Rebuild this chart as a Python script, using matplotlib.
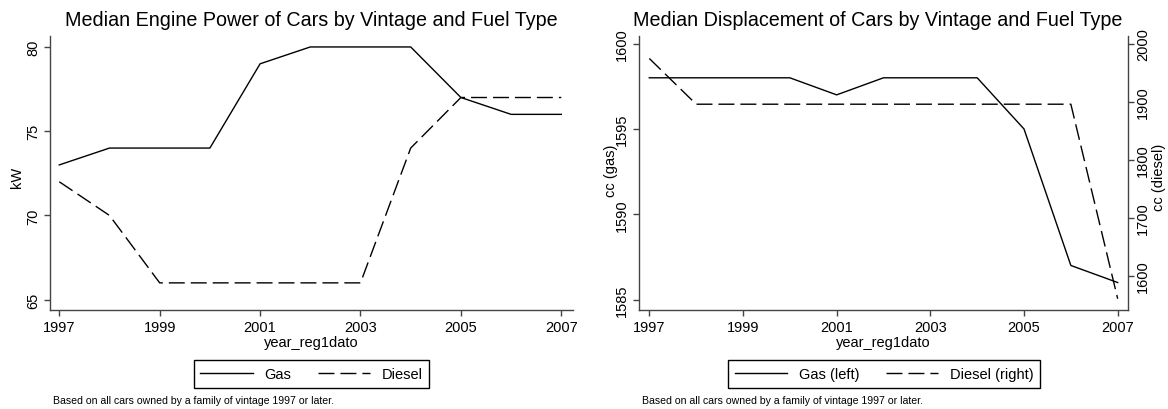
import matplotlib
matplotlib.use("Agg")
import matplotlib.pyplot as plt
from matplotlib.lines import Line2D

years = [1997, 1998, 1999, 2000, 2001, 2002, 2003, 2004, 2005, 2006, 2007]
power_gas = [73, 74, 74, 74, 79, 80, 80, 80, 77, 76, 76]
power_diesel = [72, 70, 66, 66, 66, 66, 66, 74, 77, 77, 77]
disp_gas = [1598, 1598, 1598, 1598, 1597, 1598, 1598, 1598, 1595, 1587, 1586]
disp_diesel = [1975, 1896, 1896, 1896, 1896, 1896, 1896, 1896, 1896, 1896, 1560]
xticks = [1997, 1999, 2001, 2003, 2005, 2007]
power_ticks = [65, 70, 75, 80]
gas_ticks = [1585, 1590, 1595, 1600]
diesel_ticks = [1600, 1700, 1800, 1900, 2000]

plt.rcParams['font.family'] = ['Liberation Sans', 'DejaVu Sans']
plt.rcParams['lines.scale_dashes'] = False

W, H = 1168, 410
fig = plt.figure(figsize=(W / 100, H / 100), dpi=100)

FS = 10.5
SPINE = '#444444'
LW = 1.0
DASH = (0, (11.5, 4.3))


def px(x0, x1, ytop, ybot):
    return [x0 / W, (H - ybot) / H, (x1 - x0) / W, (ybot - ytop) / H]


def style(ax, sides):
    for s in ['top', 'right', 'left', 'bottom']:
        ax.spines[s].set_visible(s in sides)
        ax.spines[s].set_color(SPINE)
        ax.spines[s].set_linewidth(1.0)
    ax.tick_params(axis='both', which='major', length=4.5, width=1.0,
                   color=SPINE, labelsize=FS, pad=2.5)
    ax.set_facecolor('none')


# ---------- left panel ----------
ax1 = fig.add_axes(px(50, 573, 37, 311))
ax1.plot(years, power_gas, color='black', lw=LW, label='Gas')
ax1.plot(years, power_diesel, color='black', lw=LW, linestyle=DASH, label='Diesel')
ax1.set_xlim(1996.815, 2007.233)
ax1.set_ylim(64.39, 80.65)
ax1.set_xticks(xticks)
ax1.set_yticks(power_ticks)
style(ax1, ['left', 'bottom'])
for t in ax1.get_yticklabels():
    t.set_rotation(90)
    t.set_va('center')
ax1.set_xlabel('year_reg1dato', fontsize=FS, labelpad=1)
ax1.set_ylabel('kW', fontsize=FS)
ax1.yaxis.set_label_coords(-0.05, 0.489)
fig.text(311.5 / W, 1 - 21 / H, 'Median Engine Power of Cars by Vintage and Fuel Type',
         ha='center', va='center', fontsize=14.2)
h1 = [Line2D([], [], color='black', lw=LW),
      Line2D([], [], color='black', lw=LW, linestyle=DASH)]
leg1 = fig.legend(h1, ['Gas', 'Diesel'], loc='center', ncol=2,
                  bbox_to_anchor=(311.5 / W, 1 - 375 / H), fontsize=FS,
                  handlelength=3.6, handletextpad=0.8, columnspacing=1.8,
                  borderpad=0.45, fancybox=False, edgecolor='black', framealpha=1)
leg1.get_frame().set_linewidth(1.0)
fig.text(53 / W, 1 - 401 / H, 'Based on all cars owned by a family of vintage 1997 or later.',
         ha='left', va='center', fontsize=7.6)

# ---------- right panel ----------
ax2 = fig.add_axes(px(639, 1128, 37, 311))
ax2.plot(years, disp_gas, color='black', lw=LW)
ax2.set_xlim(1996.78, 2007.22)
ax2.set_ylim(1584.39, 1600.45)
ax2.set_xticks(xticks)
ax2.set_yticks(gas_ticks)
style(ax2, ['left', 'bottom'])
for t in ax2.get_yticklabels():
    t.set_rotation(90)
    t.set_va('center')
ax2.set_xlabel('year_reg1dato', fontsize=FS, labelpad=1)
ax2.set_ylabel('cc (gas)', fontsize=FS)
ax2.yaxis.set_label_coords(-0.042, 0.511)

ax3 = ax2.twinx()
ax3.plot(years, disp_diesel, color='black', lw=LW, linestyle=DASH)
ax3.set_ylim(1540.6, 2013.8)
ax3.set_yticks(diesel_ticks)
style(ax3, ['right'])
ax3.tick_params(axis='y', pad=1.5)
for t in ax3.get_yticklabels():
    t.set_rotation(90)
    t.set_va('center')
ax3.set_ylabel('cc (diesel)', fontsize=FS)
ax3.yaxis.set_label_coords(1.05, 0.489)

fig.text(878 / W, 1 - 21 / H, 'Median Displacement of Cars by Vintage and Fuel Type',
         ha='center', va='center', fontsize=14.2)
leg2 = fig.legend(h1, ['Gas (left)', 'Diesel (right)'], loc='center', ncol=2,
                  bbox_to_anchor=(884 / W, 1 - 375 / H), fontsize=FS,
                  handlelength=3.6, handletextpad=0.8, columnspacing=1.8,
                  borderpad=0.45, fancybox=False, edgecolor='black', framealpha=1)
leg2.get_frame().set_linewidth(1.0)
fig.text(642 / W, 1 - 401 / H, 'Based on all cars owned by a family of vintage 1997 or later.',
         ha='left', va='center', fontsize=7.6)

fig.savefig('out.png', dpi=100, facecolor='white')
